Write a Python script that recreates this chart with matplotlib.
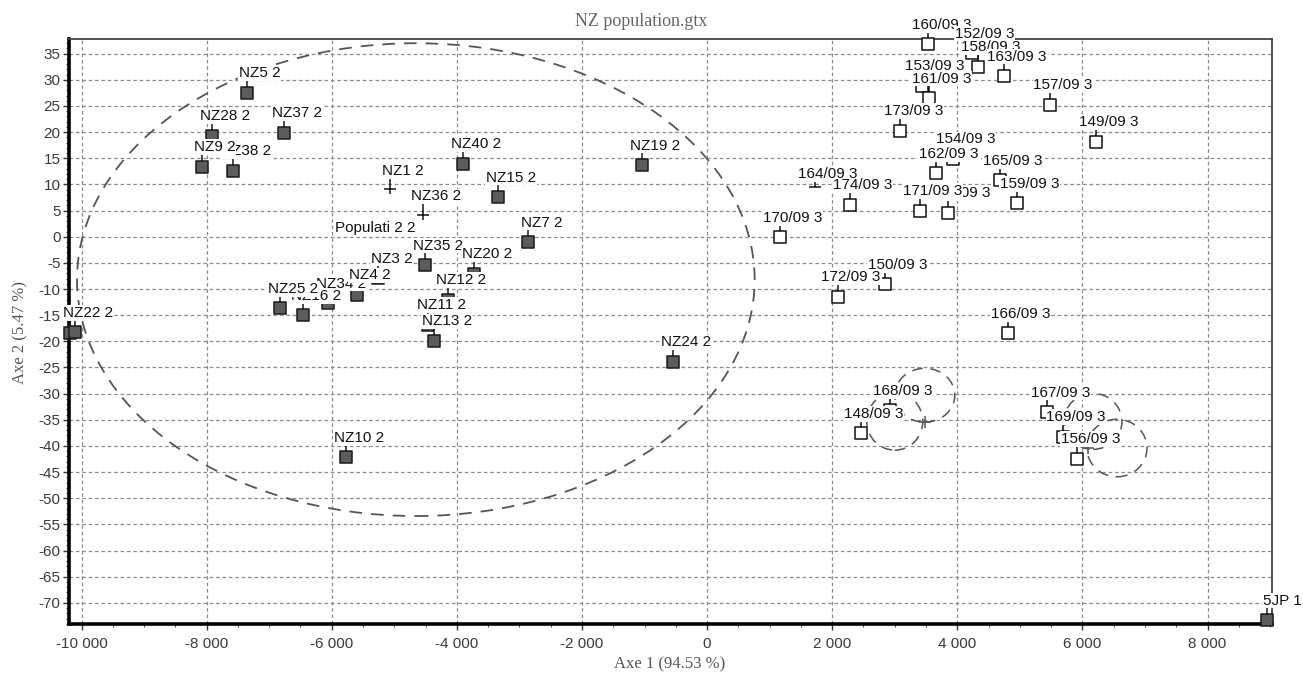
import numpy as np
import matplotlib
matplotlib.use('Agg')
import matplotlib.pyplot as plt
from matplotlib.path import Path
from matplotlib.patches import Ellipse
from matplotlib import font_manager
from matplotlib.ticker import MultipleLocator, FuncFormatter

# points: label, axe 1, axe 2, symbol (listed in the order the labels are stacked)
labels = ['NZ5 2', 'NZ37 2', 'NZ28 2', 'NZ38 2', 'NZ9 2', 'NZ1 2', 'NZ40 2', 'NZ15 2',
          'NZ19 2', 'NZ36 2', 'Populati 2 2', 'NZ7 2', 'NZ35 2', 'NZ3 2', 'NZ20 2',
          'NZ34 2', 'NZ16 2', 'NZ25 2', 'NZ4 2', 'NZ12 2', 'NZ11 2', 'NZ13 2', 'NZ24 2',
          'NZ10 2', 'NZ2 2', 'NZ22 2', '5JP 1',
          '160/09 3', '152/09 3', '158/09 3', '163/09 3', '153/09 3', '161/09 3',
          '157/09 3', '173/09 3', '149/09 3', '162/09 3', '154/09 3', '165/09 3',
          '159/09 3', '164/09 3', '174/09 3', '155/09 3', '171/09 3', '170/09 3',
          '150/09 3', '172/09 3', '166/09 3', '168/09 3', '148/09 3', '167/09 3',
          '169/09 3', '156/09 3']
axe1 = [-7357, -6760, -7918, -7571, -8077, -5075, -3907, -3347,
        -1043, -4547, -5512, -2856, -4504, -5256, -3732,
        -6067, -6467, -6824, -5603, -4141, -4461, -4371, -547,
        -5773, -10180, -10104, 8947,
        3536, 4232, 4333, 4749, 3432, 3546,
        5480, 3091, 6216, 3656, 3928, 4680,
        4947, 1720, 2280, 3853, 3400, 1160,
        2840, 2093, 4803, 2924, 2456, 5440,
        5690, 5917]
axe2 = [27.5, 19.9, 19.3, 12.6, 13.4, 8.9, 14.0, 7.6,
        13.7, 4.0, -2.1, -1.0, -5.4, -7.9, -7.1,
        -12.7, -15.0, -13.7, -11.1, -12.0, -16.8, -19.9, -23.9,
        -42.2, -18.4, -18.3, -73.3,
        36.8, 35.1, 32.5, 30.7, 28.9, 26.5,
        25.2, 20.3, 18.2, 12.1, 14.9, 10.8,
        6.4, 8.3, 6.1, 4.6, 5.0, -0.1,
        -9.1, -11.5, -18.5, -33.2, -37.6, -33.5,
        -38.2, -42.4]
symbol = ['fill'] * 5 + ['cross', 'fill', 'fill', 'fill', 'cross', 'none'] + ['fill'] * 16 \
         + ['open'] * 13 + ['dash'] + ['open'] * 12

# small "+" marks and dashed ellipses
mark_x = [3480, 6088]
mark_y = [-35.5, -40.4]
ell_cx = [-4656, 3480, 3000, 6168, 6552]
ell_cy = [-8.2, -30.3, -35.3, -35.3, -40.4]
ell_w = [10832, 960, 896, 928, 960]
ell_h = [90.4, 10.3, 11.0, 10.7, 11.0]

names = {f.name for f in font_manager.fontManager.ttflist}
if 'Liberation Sans Narrow' in names:
    lab_font, lab_size = 'Liberation Sans Narrow', 12.5
else:
    lab_font, lab_size = 'Liberation Sans', 11

# marker shapes: square with a short stem on top
sq = [(-0.4, -0.4), (0.4, -0.4), (0.4, 0.4), (-0.4, 0.4), (-0.4, -0.4)]
stem = [(0, 0.4), (0, 1.0)]
box_stem = Path(sq + stem, [Path.MOVETO] + [Path.LINETO] * 3 + [Path.CLOSEPOLY]
                + [Path.MOVETO, Path.LINETO])
cross_stem = Path([(-0.4, 0.1), (0.4, 0.1), (0, -0.3), (0, 1.0)],
                  [Path.MOVETO, Path.LINETO, Path.MOVETO, Path.LINETO])
dash = Path([(-0.4, 0.4), (0.4, 0.4), (0, 0.4), (0, 1.0)],
            [Path.MOVETO, Path.LINETO, Path.MOVETO, Path.LINETO])

fig = plt.figure(figsize=(13.03, 6.73), dpi=100)
ax = fig.add_axes([69 / 1303, 1 - 624.3 / 673, (1272 - 69) / 1303, (624.3 - 39.3) / 673])
ax.set_xlim(-10200, 9030)
ax.set_ylim(-74.1, 37.75)

ax.xaxis.set_major_locator(MultipleLocator(2000))
ax.xaxis.set_minor_locator(MultipleLocator(500))
ax.yaxis.set_major_locator(MultipleLocator(5))
ax.yaxis.set_minor_locator(MultipleLocator(1))
ax.xaxis.set_major_formatter(FuncFormatter(lambda v, p: f'{int(round(v)):,}'.replace(',', ' ')))
ax.yaxis.set_major_formatter(FuncFormatter(lambda v, p: f'{int(round(v))}'))
ax.grid(True, which='major', color='#8c8c8c', linestyle=(0, (2.9, 2.2)), linewidth=0.9)
ax.set_axisbelow(True)
ax.tick_params(which='major', direction='out', length=4, width=1, color='#333333',
               labelcolor='#3a3a3a', labelsize=lab_size)
ax.tick_params(which='minor', direction='out', length=2, width=0.8, color='#555555')
ax.tick_params(axis='x', pad=5)
ax.tick_params(axis='y', pad=2)
for t in ax.get_xticklabels() + ax.get_yticklabels():
    t.set_fontfamily(lab_font)

for s in ['left', 'bottom']:
    ax.spines[s].set_linewidth(2.6)
    ax.spines[s].set_color('black')
for s in ['top', 'right']:
    ax.spines[s].set_linewidth(1.3)
    ax.spines[s].set_color('#444444')

for i in range(len(ell_cx)):
    lw = 1.3 if i == 0 else 1.1
    ax.add_patch(Ellipse((ell_cx[i], ell_cy[i]), ell_w[i], ell_h[i], fill=False,
                         edgecolor='#555555', linewidth=lw, linestyle=(0, (7, 5)), zorder=2))
ax.scatter(mark_x, mark_y, marker='+', s=80, color='#555555', linewidths=1.1, zorder=2)

for i in range(len(labels)):
    k = symbol[i]
    if k == 'none':
        continue
    if k == 'fill':
        ax.plot(axe1[i], axe2[i], marker=box_stem, markersize=20, markerfacecolor='#5c5c5c',
                markeredgecolor='#1a1a1a', markeredgewidth=1.1, clip_on=False, zorder=3)
    elif k == 'open':
        ax.plot(axe1[i], axe2[i], marker=box_stem, markersize=20, markerfacecolor='white',
                markeredgecolor='#111111', markeredgewidth=1.1, clip_on=False, zorder=3)
    elif k == 'cross':
        ax.plot(axe1[i], axe2[i], marker=cross_stem, markersize=20, markerfacecolor='none',
                markeredgecolor='#111111', markeredgewidth=1.1, clip_on=False, zorder=3)
    else:
        ax.plot(axe1[i], axe2[i], marker=dash, markersize=20, markerfacecolor='none',
                markeredgecolor='#111111', markeredgewidth=1.1, clip_on=False, zorder=3)

for i in range(len(labels)):
    dx = 11 if labels[i] == '5JP 1' else 9.4
    ax.annotate(labels[i], (axe1[i], axe2[i]), xytext=(dx, 14), textcoords='offset points',
                ha='center', va='center', fontsize=lab_size, family=lab_font, color='#111111',
                annotation_clip=False, zorder=4,
                bbox=dict(boxstyle='square,pad=0.05', facecolor='white', edgecolor='none'))

fig.text(641 / 1303, 1 - 21.7 / 673, 'NZ population.gtx', ha='center', va='center',
         family='Liberation Serif', fontsize=13, color='#666666')
fig.text(670 / 1303, 1 - 664 / 673, 'Axe 1 (94.53 %)', ha='center', va='center',
         family='Liberation Serif', fontsize=12, color='#555555')
fig.text(20 / 1303, 1 - 332 / 673, 'Axe 2 (5.47 %)', ha='center', va='center', rotation=90,
         family='Liberation Serif', fontsize=12, color='#555555')

fig.savefig('out.png', dpi=100)
